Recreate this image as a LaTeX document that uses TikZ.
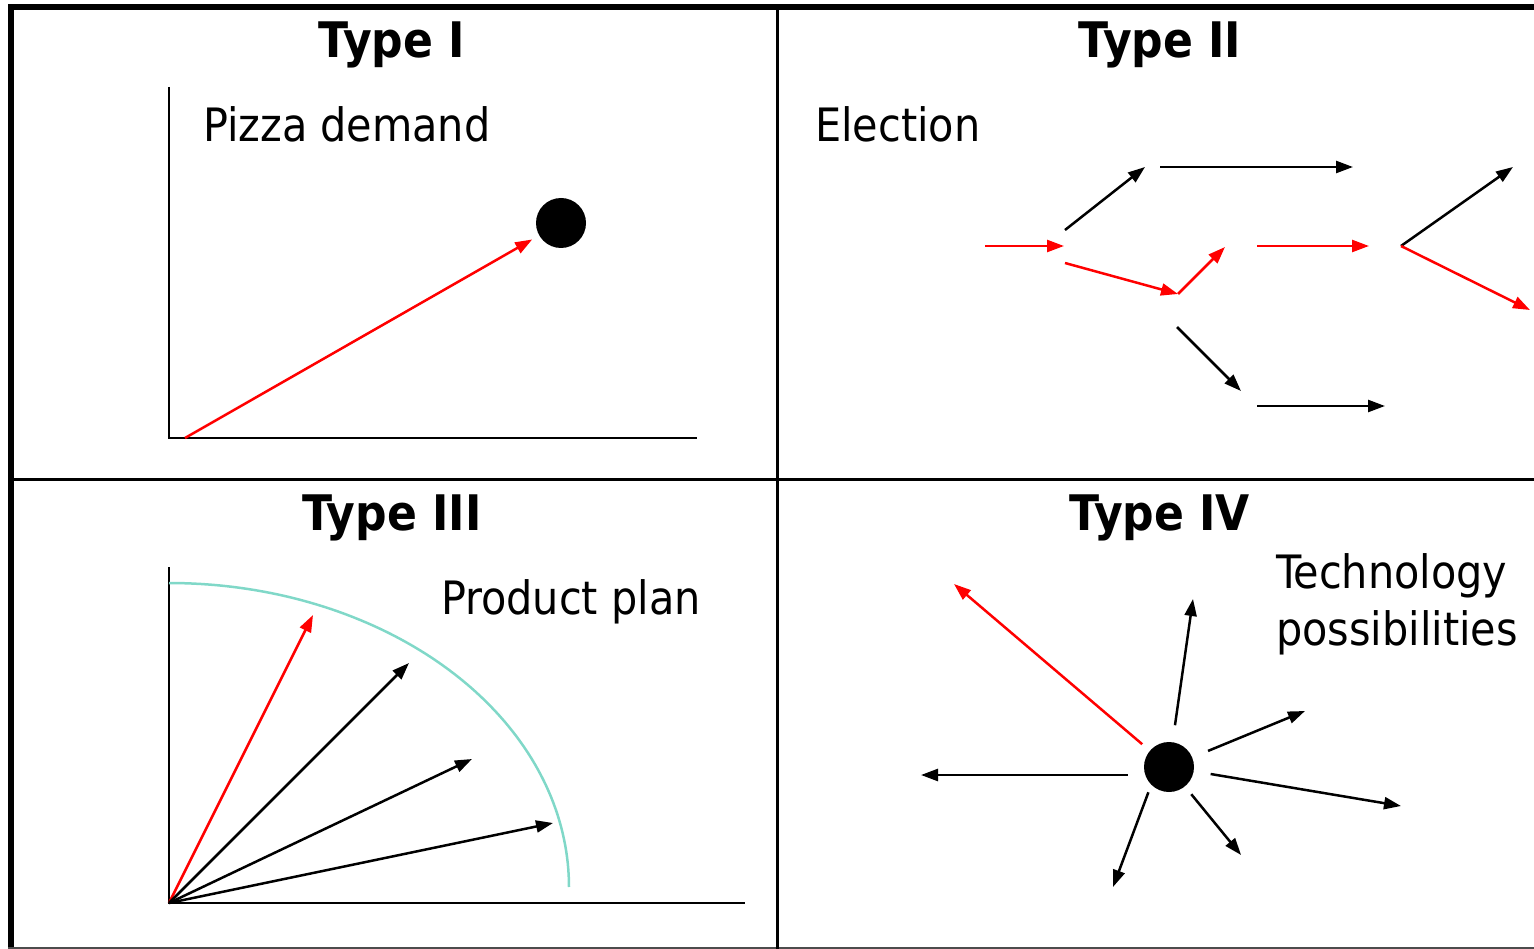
\documentclass[tikz,border=0pt]{standalone}
\usepackage{fontspec}
\setmainfont{DejaVu Sans Condensed}
\usetikzlibrary{arrows.meta}
\definecolor{arcteal}{RGB}{128,216,200}
\tikzset{
    ttl/.style={font=\fontsize{49}{54}\selectfont\bfseries, anchor=base, inner sep=0pt},
    lbl/.style={font=\fontsize{46}{56}\selectfont, anchor=base west, inner sep=0pt},
    vec/.style={line width=2.5pt, -{Triangle[length=17pt,width=12pt]}},
    redvec/.style={vec, red},
    axis/.style={line width=2.5pt},
    dot/.style={circle, fill=black, minimum size=50pt, inner sep=0pt}
}

\begin{document}
\begin{tikzpicture}[x=1pt,y=-1pt]
    \useasboundingbox (0,0) rectangle (1534,949);

    % Frame and quadrants
    \draw[line width=6pt] (11,949) -- (11,7) -- (1534,7);
    \draw[line width=2pt, black!70] (8,948) -- (1534,948);
    \draw[line width=3pt] (777,7) -- (777,949);
    \draw[line width=3pt] (11,479) -- (1534,479);

    % Titles
    \node[ttl] (t1) at (392,58) {Type I};
    \node[ttl] (t2) at (1160,58) {Type II};
    \node[ttl] (t3) at (392,530) {Type III};
    \node[ttl] (t4) at (1160,530) {Type IV};

    % Type I
    \coordinate (o1) at (169,438);
    \draw[axis] (169,87) -- (o1) -- (697,438);
    \node[lbl] (pizza) at (203,142) {Pizza demand};
    \node[dot] (d1) at (561,223) {};
    \coordinate (r1) at (185,438);
    \draw[redvec, shorten >=8pt] (r1) -- (d1);

    % Type II
    \node[lbl] (elect) at (815,142) {Election};
    \coordinate (e0) at (985,246);
    \coordinate (e1) at (1064,246);
    \coordinate (a0) at (1065,230);
    \coordinate (a1) at (1145,167);
    \coordinate (b0) at (1160,167);
    \coordinate (b1) at (1353,167);
    \coordinate (c0) at (1065,263);
    \coordinate (c1) at (1178,294);
    \coordinate (c2) at (1225,247);
    \coordinate (f0) at (1257,246);
    \coordinate (f1) at (1369,246);
    \coordinate (fork) at (1401,246);
    \coordinate (g1) at (1513,167);
    \coordinate (g2) at (1530,310);
    \coordinate (h0) at (1177,327);
    \coordinate (h1) at (1241,391);
    \coordinate (k0) at (1257,406);
    \coordinate (k1) at (1385,406);
    \draw[redvec] (e0) -- (e1);
    \draw[vec] (a0) -- (a1);
    \draw[vec] (b0) -- (b1);
    \draw[redvec] (c0) -- (c1);
    \draw[redvec] (c1) -- (c2);
    \draw[redvec] (f0) -- (f1);
    \draw[vec] (fork) -- (g1);
    \draw[redvec] (fork) -- (g2);
    \draw[vec] (h0) -- (h1);
    \draw[vec] (k0) -- (k1);

    % Type III
    \coordinate (o3) at (169,903);
    \draw[axis] (169,567) -- (o3) -- (745,903);
    \draw[arcteal, line width=2.5pt] plot[domain=0:90, samples=80] ({169+400*cos(\x)},{887-304*sin(\x)});
    \node[lbl] (plan) at (441,614) {Product plan};
    \foreach \n/\tx/\ty/\c in {p1/313/615/red, p2/409/663/black, p3/472/759/black, p4/553/823/black} {
        \coordinate (\n) at (\tx,\ty);
        \draw[vec, \c] (o3) -- (\n);
    }

    % Type IV
    \node[lbl] (tech) at (1276,588) {Technology};
    \node[lbl] (poss) at (1276,645) {possibilities};
    \node[dot] (d4) at (1169,767) {};
    \coordinate (q0) at (954,584);
    \draw[redvec, shorten <=10pt] (d4) -- (q0);
    \foreach \n/\tx/\ty/\gap in {q1/1193/599/17, q2/1305/711/17, q3/1401/806/17, q4/1241/855/10} {
        \coordinate (\n) at (\tx,\ty);
        \draw[vec, shorten <=\gap pt] (d4) -- (\n);
    }
    \coordinate (q5) at (1113,887);
    \coordinate (q6) at (921,775);
    \draw[vec, shorten <=8pt] (d4.south west) -- (q5);
    \draw[vec, shorten <=16pt] (d4.west |- q6) -- (q6);
\end{tikzpicture}
\end{document}
